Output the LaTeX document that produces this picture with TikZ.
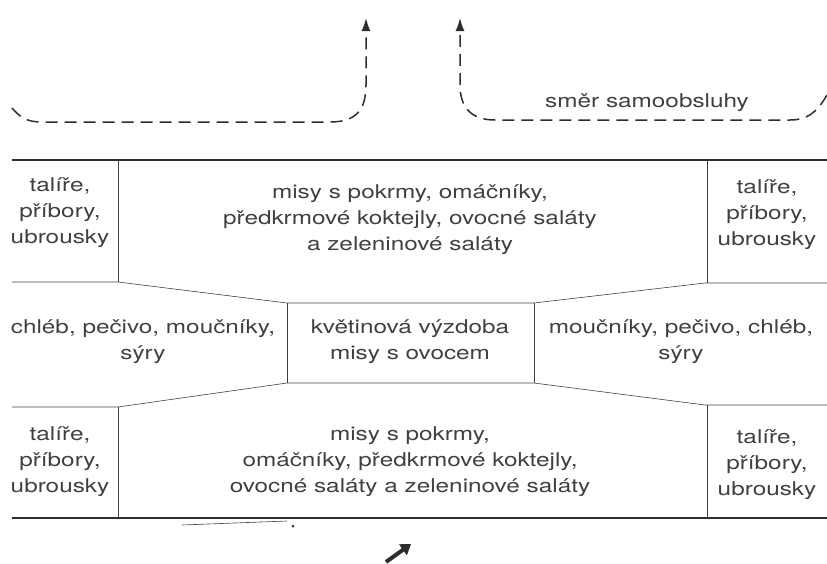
\documentclass[tikz,border=0pt]{standalone}
\usepackage{fontspec}
\setmainfont{TeX Gyre Heros}[FakeStretch=1.28]
\usetikzlibrary{arrows.meta}
\definecolor{ink}{HTML}{404040}
\definecolor{rule}{HTML}{2E2E2E}
\tikzset{
  cell/.style={align=center,text=ink,font=\fontsize{19}{26}\selectfont,inner sep=0pt},
  rim/.style={line width=1.8pt,rule},
  edge/.style={line width=0.6pt,ink},
  flow/.style={dash pattern=on 12pt off 7pt,line width=1.5pt,rule,
               -{Latex[length=13pt,width=9pt]}},
}
\begin{document}
\begin{tikzpicture}[x=1pt,y=-1pt]
  \useasboundingbox (0,0) rectangle (827,563);
  % direction of self-service
  \draw[flow] (12,108) .. controls (20,117) and (26,122) .. (42,122) -- (330,122)
     .. controls (356,122) and (366,110) .. (366,85) -- (366,18);
  \draw[flow] (827,95) .. controls (816,114) and (806,120) .. (790,120) -- (495,120)
     .. controls (470,120) and (460,106) .. (460,85) -- (460,18);
  \node[cell] (dir) at (647,103) {směr samoobsluhy};
  % table outline
  \draw[rim] (12,160) -- (827,160);
  \draw[rim] (12,518) -- (827,518);
  \draw[edge] (118,160) -- (118,282);
  \draw[edge] (707,160) -- (707,283);
  \draw[edge] (12,282) -- (118,282) -- (287,303) -- (534,303) -- (705,283) -- (827,283);
  \draw[edge] (287,303) -- (287,383);
  \draw[edge] (534,303) -- (534,383);
  \draw[edge] (12,407) -- (118,407) -- (287,383) -- (534,383) -- (705,405) -- (827,405);
  \draw[edge] (118,407) -- (118,518);
  \draw[edge] (707,405) -- (707,518);
  % top row
  \node[cell] (tl) at (60,213) {talíře,\\příbory,\\ubrousky};
  \node[cell] (tm) at (410,220) {misy s pokrmy, omáčníky,\\předkrmové koktejly, ovocné saláty\\a zeleninové saláty};
  \node[cell] (tr) at (767,215) {talíře,\\příbory,\\ubrousky};
  % middle row
  \node[cell] (ml) at (143,342) {chléb, pečivo, moučníky,\\sýry};
  \node[cell] (mm) at (410,342) {květinová výzdoba\\misy s ovocem};
  \node[cell] (mr) at (681,342) {moučníky, pečivo, chléb,\\sýry};
  % bottom row
  \node[cell] (bl) at (60,462) {talíře,\\příbory,\\ubrousky};
  \node[cell] (bm) at (410,462) {misy s pokrmy,\\omáčníky, předkrmové koktejly,\\ovocné saláty a zeleninové saláty};
  \node[cell] (br) at (767,465) {talíře,\\příbory,\\ubrousky};
  % cut-off marks below
  \draw[edge] (182,525) -- (287,521);
  \fill[rule] (293,526) circle (1.5pt);
  \draw[line width=4pt,rule,-{Triangle[length=10pt,width=13pt]}] (386,562) -- (411,544);
\end{tikzpicture}
\end{document}
